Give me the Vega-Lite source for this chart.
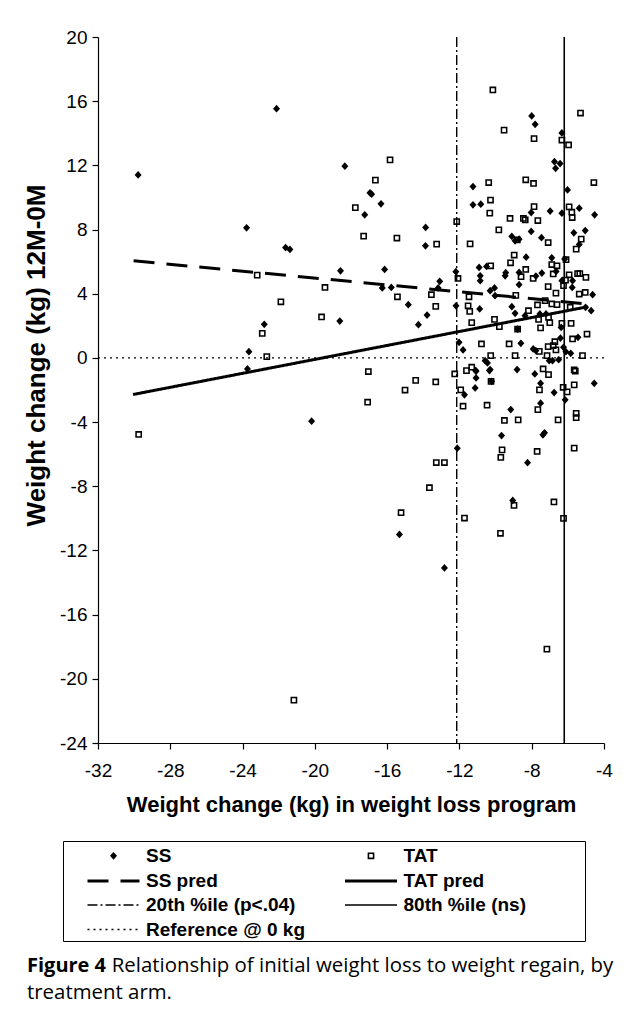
{
  "$schema": "https://vega.github.io/schema/vega-lite/v6.json",
  "width": 506,
  "height": 706,
  "autosize": {"type": "none"},
  "padding": {"left": 98, "top": 37, "right": 23, "bottom": 273},
  "background": "white",
  "title": {
    "text": "Figure 4",
    "subtitle": ["\u200b\u00a0\u00a0\u00a0\u00a0\u00a0\u00a0\u00a0\u00a0\u00a0\u00a0\u00a0\u00a0\u00a0\u00a0\u00a0\u00a0Relationship of initial weight loss to weight regain, by", "treatment arm."],
    "orient": "bottom",
    "anchor": "start",
    "frame": "group",
    "offset": 14,
    "dx": -71
  },
  "datasets": {
    "pts": [
      {"series":"SS","x":-29.78,"y":11.4},{"series":"SS","x":-23.78,"y":8.11},{"series":"SS","x":-22.12,"y":15.53},{"series":"SS","x":-21.62,"y":6.88},{"series":"SS","x":-21.38,"y":6.76},{"series":"SS","x":-22.8,"y":2.09},{"series":"SS","x":-23.65,"y":0.39},{"series":"SS","x":-23.73,"y":-0.69},{"series":"SS","x":-20.18,"y":-3.94},{"series":"SS","x":-18.34,"y":11.95},{"series":"SS","x":-16.95,"y":10.29},{"series":"SS","x":-16.86,"y":10.2},{"series":"SS","x":-16.34,"y":9.6},{"series":"SS","x":-17.24,"y":8.92},{"series":"SS","x":-13.87,"y":8.13},{"series":"SS","x":-13.88,"y":6.99},{"series":"SS","x":-18.58,"y":5.43},{"series":"SS","x":-16.14,"y":5.51},{"series":"SS","x":-16.27,"y":4.36},{"series":"SS","x":-15.77,"y":4.39},{"series":"SS","x":-14.83,"y":3.32},{"series":"SS","x":-13.09,"y":4.77},{"series":"SS","x":-13.18,"y":4.36},{"series":"SS","x":-13.79,"y":2.67},{"series":"SS","x":-14.27,"y":2.07},{"series":"SS","x":-18.62,"y":2.3},{"series":"SS","x":-12.2,"y":5.37},{"series":"SS","x":-12.19,"y":3.25},{"series":"SS","x":-12.12,"y":-5.63},{"series":"SS","x":-11.72,"y":-2.3},{"series":"SS","x":-11.08,"y":-1.25},{"series":"SS","x":-11.13,"y":-1.87},{"series":"SS","x":-11.08,"y":-0.83},{"series":"SS","x":-10.34,"y":-0.79},{"series":"SS","x":-9.16,"y":-3.22},{"series":"SS","x":-9.67,"y":-4.84},{"series":"SS","x":-8.23,"y":-6.53},{"series":"SS","x":-7.38,"y":-4.79},{"series":"SS","x":-7.29,"y":-4.67},{"series":"SS","x":-7.51,"y":-2.82},{"series":"SS","x":-7.51,"y":-1.58},{"series":"SS","x":-7.83,"y":-1.0},{"series":"SS","x":-6.76,"y":-2.16},{"series":"SS","x":-6.15,"y":-2.61},{"series":"SS","x":-4.54,"y":-1.58},{"series":"SS","x":-15.32,"y":-11.0},{"series":"SS","x":-12.83,"y":-13.09},{"series":"SS","x":-9.05,"y":-8.88},
      {"series":"SS","x":-8.0,"y":15.08},{"series":"SS","x":-7.81,"y":14.56},{"series":"SS","x":-6.33,"y":14.02},{"series":"SS","x":-6.74,"y":12.23},{"series":"SS","x":-6.43,"y":12.11},{"series":"SS","x":-6.68,"y":11.82},{"series":"SS","x":-11.25,"y":10.68},{"series":"SS","x":-6.02,"y":10.47},{"series":"SS","x":-11.25,"y":9.54},{"series":"SS","x":-10.82,"y":9.58},{"series":"SS","x":-8.03,"y":9.06},{"series":"SS","x":-6.98,"y":9.15},{"series":"SS","x":-6.33,"y":9.02},{"series":"SS","x":-5.37,"y":9.33},{"series":"SS","x":-4.52,"y":8.92},{"series":"SS","x":-8.03,"y":7.88},{"series":"SS","x":-9.1,"y":7.57},{"series":"SS","x":-8.92,"y":7.3},{"series":"SS","x":-8.7,"y":7.4},{"series":"SS","x":-7.46,"y":7.49},{"series":"SS","x":-5.67,"y":7.8},{"series":"SS","x":-5.04,"y":7.94},{"series":"SS","x":-5.37,"y":7.07},{"series":"SS","x":-8.31,"y":6.28},{"series":"SS","x":-6.89,"y":6.24},{"series":"SS","x":-6.18,"y":6.16},{"series":"SS","x":-10.91,"y":5.64},{"series":"SS","x":-10.5,"y":5.7},{"series":"SS","x":-9.44,"y":5.31},{"series":"SS","x":-8.7,"y":5.33},{"series":"SS","x":-7.44,"y":5.29},{"series":"SS","x":-7.77,"y":5.1},{"series":"SS","x":-6.65,"y":5.39},{"series":"SS","x":-5.74,"y":4.81},{"series":"SS","x":-10.85,"y":5.12},{"series":"SS","x":-10.85,"y":4.81},{"series":"SS","x":-9.47,"y":5.12},{"series":"SS","x":-6.33,"y":4.81},{"series":"SS","x":-10.06,"y":4.36},{"series":"SS","x":-10.3,"y":4.19},{"series":"SS","x":-10.03,"y":3.88},{"series":"SS","x":-8.7,"y":4.56},{"series":"SS","x":-10.88,"y":3.05},{"series":"SS","x":-5.76,"y":4.39},{"series":"SS","x":-4.63,"y":3.94},{"series":"SS","x":-9.1,"y":3.19},{"series":"SS","x":-8.92,"y":2.78},{"series":"SS","x":-8.37,"y":2.63},{"series":"SS","x":-7.55,"y":2.74},{"series":"SS","x":-7.21,"y":2.74},{"series":"SS","x":-5.02,"y":3.15},{"series":"SS","x":-4.71,"y":2.94},{"series":"SS","x":-6.37,"y":1.9},{"series":"SS","x":-8.78,"y":1.8},{"series":"SS","x":-5.44,"y":1.28},{"series":"SS","x":-6.41,"y":1.24},{"series":"SS","x":-8.6,"y":0.91},{"series":"SS","x":-6.24,"y":0.66},{"series":"SS","x":-6.11,"y":0.39},{"series":"SS","x":-12.02,"y":0.97},{"series":"SS","x":-11.8,"y":0.5},{"series":"SS","x":-7.92,"y":0.56},{"series":"SS","x":-7.77,"y":0.45},{"series":"SS","x":-5.84,"y":0.29},{"series":"SS","x":-10.58,"y":-0.17},{"series":"SS","x":-10.45,"y":-0.31},{"series":"SS","x":-7.03,"y":-0.17},{"series":"SS","x":-6.85,"y":-0.17},{"series":"SS","x":-6.51,"y":-0.11},{"series":"SS","x":-11.1,"y":-0.79},{"series":"SS","x":-10.3,"y":-0.73},{"series":"SS","x":-8.81,"y":-0.73},{"series":"SS","x":-10.22,"y":-1.46},
      {"series":"TAT","x":-23.19,"y":5.16},{"series":"TAT","x":-21.88,"y":3.5},{"series":"TAT","x":-22.91,"y":1.53},{"series":"TAT","x":-22.66,"y":0.08},{"series":"TAT","x":-19.63,"y":2.55},{"series":"TAT","x":-19.44,"y":4.39},{"series":"TAT","x":-29.75,"y":-4.77},{"series":"TAT","x":-21.16,"y":-21.33},{"series":"TAT","x":-15.84,"y":12.34},{"series":"TAT","x":-16.65,"y":11.08},{"series":"TAT","x":-17.76,"y":9.37},{"series":"TAT","x":-17.3,"y":7.59},{"series":"TAT","x":-15.46,"y":7.47},{"series":"TAT","x":-13.26,"y":7.09},{"series":"TAT","x":-12.15,"y":8.5},{"series":"TAT","x":-15.43,"y":3.81},{"series":"TAT","x":-13.55,"y":3.94},{"series":"TAT","x":-13.31,"y":3.21},{"series":"TAT","x":-12.08,"y":4.95},{"series":"TAT","x":-17.04,"y":-0.85},{"series":"TAT","x":-17.08,"y":-2.76},{"series":"TAT","x":-14.42,"y":-1.4},{"series":"TAT","x":-15.01,"y":-2.0},{"series":"TAT","x":-13.31,"y":-1.5},{"series":"TAT","x":-12.26,"y":-1.0},{"series":"TAT","x":-13.28,"y":-6.52},{"series":"TAT","x":-12.83,"y":-6.52},{"series":"TAT","x":-11.93,"y":-1.99},{"series":"TAT","x":-11.8,"y":-3.01},{"series":"TAT","x":-10.25,"y":-1.47},{"series":"TAT","x":-10.47,"y":-2.95},{"series":"TAT","x":-9.51,"y":-3.9},{"series":"TAT","x":-8.75,"y":-3.86},{"series":"TAT","x":-9.64,"y":-5.73},{"series":"TAT","x":-9.71,"y":-6.2},{"series":"TAT","x":-7.7,"y":-5.83},{"series":"TAT","x":-6.54,"y":-3.86},{"series":"TAT","x":-5.65,"y":-5.62},{"series":"TAT","x":-5.54,"y":-3.45},{"series":"TAT","x":-5.54,"y":-3.72},{"series":"TAT","x":-7.66,"y":-3.22},{"series":"TAT","x":-7.57,"y":-1.99},{"series":"TAT","x":-7.07,"y":-1.04},{"series":"TAT","x":-6.26,"y":-1.83},{"series":"TAT","x":-6.04,"y":-2.12},{"series":"TAT","x":-5.65,"y":-1.68},{"series":"TAT","x":-5.59,"y":-0.83},{"series":"TAT","x":-13.66,"y":-8.09},{"series":"TAT","x":-15.23,"y":-9.65},{"series":"TAT","x":-11.72,"y":-9.98},{"series":"TAT","x":-8.98,"y":-9.19},{"series":"TAT","x":-9.73,"y":-10.93},{"series":"TAT","x":-6.77,"y":-8.98},{"series":"TAT","x":-6.24,"y":-10.0},{"series":"TAT","x":-7.16,"y":-18.15},
      {"series":"TAT","x":-10.15,"y":16.7},{"series":"TAT","x":-5.3,"y":15.26},{"series":"TAT","x":-9.53,"y":14.2},{"series":"TAT","x":-7.87,"y":13.67},{"series":"TAT","x":-6.33,"y":13.58},{"series":"TAT","x":-5.96,"y":13.27},{"series":"TAT","x":-10.38,"y":10.93},{"series":"TAT","x":-8.33,"y":11.1},{"series":"TAT","x":-7.9,"y":10.87},{"series":"TAT","x":-4.56,"y":10.93},{"series":"TAT","x":-10.28,"y":9.84},{"series":"TAT","x":-10.32,"y":9.02},{"series":"TAT","x":-9.2,"y":8.69},{"series":"TAT","x":-8.46,"y":8.69},{"series":"TAT","x":-8.36,"y":8.6},{"series":"TAT","x":-7.87,"y":9.43},{"series":"TAT","x":-7.66,"y":8.56},{"series":"TAT","x":-5.93,"y":9.41},{"series":"TAT","x":-5.78,"y":9.08},{"series":"TAT","x":-5.76,"y":8.75},{"series":"TAT","x":-9.82,"y":7.98},{"series":"TAT","x":-8.8,"y":7.35},{"series":"TAT","x":-7.09,"y":7.19},{"series":"TAT","x":-11.41,"y":7.11},{"series":"TAT","x":-5.26,"y":7.4},{"series":"TAT","x":-5.54,"y":6.78},{"series":"TAT","x":-8.97,"y":6.41},{"series":"TAT","x":-9.17,"y":5.93},{"series":"TAT","x":-6.1,"y":6.12},{"series":"TAT","x":-6.89,"y":5.82},{"series":"TAT","x":-6.6,"y":5.74},{"series":"TAT","x":-10.27,"y":5.74},{"series":"TAT","x":-8.33,"y":5.51},{"series":"TAT","x":-8.59,"y":5.06},{"series":"TAT","x":-7.92,"y":4.95},{"series":"TAT","x":-6.81,"y":5.23},{"series":"TAT","x":-5.93,"y":5.18},{"series":"TAT","x":-5.46,"y":5.26},{"series":"TAT","x":-5.34,"y":5.26},{"series":"TAT","x":-5.0,"y":5.02},{"series":"TAT","x":-6.13,"y":4.85},{"series":"TAT","x":-11.47,"y":3.81},{"series":"TAT","x":-11.52,"y":3.25},{"series":"TAT","x":-11.43,"y":2.9},{"series":"TAT","x":-8.88,"y":3.9},{"series":"TAT","x":-7.09,"y":4.44},{"series":"TAT","x":-6.66,"y":4.04},{"series":"TAT","x":-6.24,"y":4.5},{"series":"TAT","x":-5.37,"y":3.98},{"series":"TAT","x":-5.04,"y":4.08},{"series":"TAT","x":-7.26,"y":3.57},{"series":"TAT","x":-6.89,"y":3.36},{"series":"TAT","x":-6.6,"y":3.32},{"series":"TAT","x":-7.68,"y":3.3},{"series":"TAT","x":-8.18,"y":2.94},{"series":"TAT","x":-7.07,"y":2.53},{"series":"TAT","x":-5.87,"y":3.15},{"series":"TAT","x":-7.62,"y":2.4},{"series":"TAT","x":-11.32,"y":2.2},{"series":"TAT","x":-10.06,"y":2.4},{"series":"TAT","x":-9.79,"y":1.95},{"series":"TAT","x":-7.0,"y":2.2},{"series":"TAT","x":-6.33,"y":2.15},{"series":"TAT","x":-5.82,"y":2.15},{"series":"TAT","x":-7.51,"y":1.87},{"series":"TAT","x":-8.78,"y":1.8},{"series":"TAT","x":-5.74,"y":1.18},{"series":"TAT","x":-4.94,"y":1.49},{"series":"TAT","x":-9.25,"y":0.87},{"series":"TAT","x":-6.72,"y":1.01},{"series":"TAT","x":-7.09,"y":0.7},{"series":"TAT","x":-6.81,"y":0.77},{"series":"TAT","x":-6.66,"y":0.5},{"series":"TAT","x":-10.78,"y":0.87},{"series":"TAT","x":-10.27,"y":0.14},{"series":"TAT","x":-8.92,"y":0.14},{"series":"TAT","x":-7.58,"y":0.41},{"series":"TAT","x":-7.15,"y":0.14},{"series":"TAT","x":-5.19,"y":0.14},{"series":"TAT","x":-11.61,"y":-0.79},{"series":"TAT","x":-11.32,"y":-0.58},{"series":"TAT","x":-7.37,"y":-0.69},{"series":"TAT","x":-5.65,"y":-0.75}
    ],
    "fits": [
      {"series":"SS pred","x":-30.03,"y":6.05},{"series":"SS pred","x":-4.9,"y":3.36},
      {"series":"TAT pred","x":-30.06,"y":-2.28},{"series":"TAT pred","x":-4.9,"y":3.19}
    ],
    "vlines": [
      {"series":"20th %ile (p<.04)","x":-12.15},{"series":"80th %ile (ns)","x":-6.2}
    ],
    "ref": [
      {"series":"Reference @ 0 kg","y":0}
    ]
  },
  "layer": [
    {
      "data": {"name": "ref"},
      "mark": {"type": "rule", "color": "black"},
      "encoding": {
        "y": {"field": "y", "type": "quantitative", "title": "Weight change (kg) 12M-0M", "scale": {"domain": [-24, 20], "nice": false, "zero": false}},
        "strokeDash": {"field": "series", "type": "nominal", "title": "MMMM", "scale": {"domain": ["SS","TAT","SS pred","TAT pred","20th %ile (p<.04)","80th %ile (ns)","Reference @ 0 kg"], "range": [[1,0],[1,0],[21,12],[1,0],[10,3,2,3],[1,0],[2,4]]}, "legend": {"orient": "none", "legendX": -35, "legendY": 804}},
        "strokeWidth": {"field": "series", "type": "nominal", "title": "MMMM", "scale": {"type": "ordinal", "domain": ["SS","TAT","SS pred","TAT pred","20th %ile (p<.04)","80th %ile (ns)","Reference @ 0 kg"], "range": [0,0,3,3,1.4,1.6,1.3]}, "legend": {"orient": "none", "legendX": -35, "legendY": 804}}
      }
    },
    {
      "data": {"name": "vlines"},
      "mark": {"type": "rule", "color": "black"},
      "encoding": {
        "x": {"field": "x", "type": "quantitative", "title": "Weight change (kg) in weight loss program", "scale": {"domain": [-32, -4], "nice": false, "zero": false}},
        "strokeDash": {"field": "series", "type": "nominal", "title": "MMMM", "scale": {"domain": ["SS","TAT","SS pred","TAT pred","20th %ile (p<.04)","80th %ile (ns)","Reference @ 0 kg"], "range": [[1,0],[1,0],[21,12],[1,0],[10,3,2,3],[1,0],[2,4]]}, "legend": {"orient": "none", "legendX": -35, "legendY": 804}},
        "strokeWidth": {"field": "series", "type": "nominal", "title": "MMMM", "scale": {"type": "ordinal", "domain": ["SS","TAT","SS pred","TAT pred","20th %ile (p<.04)","80th %ile (ns)","Reference @ 0 kg"], "range": [0,0,3,3,1.4,1.6,1.3]}, "legend": {"orient": "none", "legendX": -35, "legendY": 804}}
      }
    },
    {
      "data": {"name": "fits"},
      "mark": {"type": "line", "color": "black"},
      "encoding": {
        "x": {"field": "x", "type": "quantitative", "title": "Weight change (kg) in weight loss program"},
        "y": {"field": "y", "type": "quantitative", "title": "Weight change (kg) 12M-0M"},
        "strokeDash": {"field": "series", "type": "nominal", "title": "MMMM", "scale": {"domain": ["SS","TAT","SS pred","TAT pred","20th %ile (p<.04)","80th %ile (ns)","Reference @ 0 kg"], "range": [[1,0],[1,0],[21,12],[1,0],[10,3,2,3],[1,0],[2,4]]}, "legend": {"orient": "none", "legendX": -35, "legendY": 804}},
        "strokeWidth": {"field": "series", "type": "nominal", "title": "MMMM", "scale": {"type": "ordinal", "domain": ["SS","TAT","SS pred","TAT pred","20th %ile (p<.04)","80th %ile (ns)","Reference @ 0 kg"], "range": [0,0,3,3,1.4,1.6,1.3]}, "legend": {"orient": "none", "legendX": -35, "legendY": 804}}
      }
    },
    {
      "data": {"name": "pts"},
      "mark": {"type": "point", "filled": true, "color": "black", "size": 625, "opacity": 1},
      "encoding": {
        "x": {"field": "x", "type": "quantitative", "title": "Weight change (kg) in weight loss program", "axis": {"values": [-32,-28,-24,-20,-16,-12,-8,-4], "labelExpr": "toString(datum.value)", "labelPadding": 12, "titlePadding": 14, "labelFlush": false}},
        "y": {"field": "y", "type": "quantitative", "title": "Weight change (kg) 12M-0M", "axis": {"values": [-24,-20,-16,-12,-8,-4,0,4,8,12,16,20], "labelExpr": "toString(datum.value)", "labelPadding": 5, "titlePadding": 10, "titleFontSize": 26, "titleY": 318, "titleAlign": "center"}},
        "shape": {"field": "series", "type": "nominal", "title": "MMMM", "scale": {"domain": ["SS","TAT","SS pred","TAT pred","20th %ile (p<.04)","80th %ile (ns)","Reference @ 0 kg"], "range": ["M0,-0.31L0.28,0L0,0.31L-0.28,0Z", "M-0.27,-0.27H0.27V0.27H-0.27ZM-0.145,-0.145V0.145H0.145V-0.145Z", "M-2.08,0H2.08", "M-2.08,0H2.08", "M-2.08,0H2.08", "M-2.08,0H2.08", "M-2.08,0H2.08"]}, "legend": {"orient": "none", "legendX": -35, "legendY": 804, "encoding": {"symbols": {"stroke": {"value": "black"}, "fill": {"value": "black"}, "opacity": {"value": 1}, "strokeWidth": {"signal": "datum.value === 'SS pred' || datum.value === 'TAT pred' ? 3 : (datum.value === 'SS' || datum.value === 'TAT') ? 0 : datum.value === '80th %ile (ns)' ? 1.6 : 1.4"}, "strokeDash": {"signal": "datum.value === 'SS pred' ? [21,12] : datum.value === '20th %ile (p<.04)' ? [10,3,2,3] : datum.value === 'Reference @ 0 kg' ? [2,4] : [1,0]"}}}}}
      }
    }
  ],
  "config": {
    "view": {"stroke": null},
    "axis": {"grid": false, "domainColor": "black", "tickColor": "black", "labelColor": "black", "titleColor": "black", "labelFont": "Liberation Sans", "titleFont": "Liberation Sans", "labelFontSize": 19, "titleFontSize": 22, "titleFontWeight": "bold", "tickSize": 6, "domainWidth": 1.2, "tickWidth": 1.2},
    "legend": {"titleOrient": "right", "titleFontSize": 17.4, "titlePadding": 0, "titleFont": "Liberation Sans", "titleFontWeight": "bold", "titleOpacity": 0, "titleColor": "white", "titleLimit": 400, "columns": 2, "direction": "horizontal", "symbolSize": 625, "symbolType": "stroke", "labelFont": "Liberation Sans", "labelFontSize": 19, "labelFontWeight": "bold", "labelColor": "black", "strokeColor": "black", "padding": 1.5, "rowPadding": 0.5, "columnPadding": 16.5, "labelOffset": 18.5, "symbolOffset": 35, "symbolStrokeColor": "black", "symbolFillColor": "black", "gridAlign": "all", "labelLimit": 400, "symbolOpacity": 1},
    "title": {"font": "Open Sans", "fontSize": 20, "fontWeight": "bold", "color": "black", "subtitleFont": "Open Sans", "subtitleFontSize": 20.4, "subtitleColor": "black", "subtitlePadding": -20, "subtitleLineHeight": 27}
  }
}
